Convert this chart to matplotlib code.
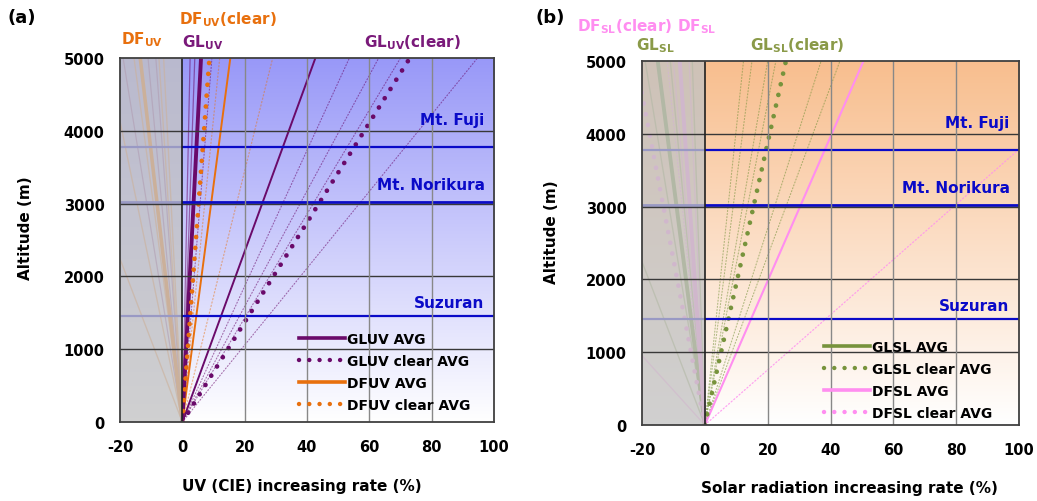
import numpy as np
import matplotlib
matplotlib.use('Agg')
import matplotlib.pyplot as plt
from matplotlib.lines import Line2D

plt.rcParams['axes.unicode_minus'] = False

# ---- data : rate (%) reached at 5000 m, every ray starts at (0 %, 0 m) ----
alt_top = 5000.

gluv_avg = 6.0
gluv_clear_avg = 73.0
dfuv_avg = -13.5
dfuv_clear_avg = 8.7
gluv_strong = [42.7]
gluv_each = [4.0, 2.5, -19.0, -11.0, -8.5]
gluv_clear_each = [9.5, 53.6, 63.0, 70.0, 94.7]
dfuv_strong = [15.4]
dfuv_each = [-7.5, -6.0, -24.2, -44.6, -15.5]
dfuv_clear_each = [29.0, 12.0]

glsl_avg = -15.0
glsl_clear_avg = 25.8
dfsl_avg = -8.0
dfsl_clear_avg = -22.0
glsl_each = [-19.0, -44.6, -11.0, -4.0]
glsl_clear_each = [12.3, 15.0, 20.0, 22.6, 37.0, 43.0]
dfsl_strong = [50.5]
dfsl_each = [-105.0, -5.0, -10.0]
dfsl_clear_each = [132.0, -12.0]

sites = ['Mt. Fuji', 'Mt. Norikura', 'Suzuran']
site_alt = [3776, 3026, 1460]
site_label_alt = [4150, 3260, 1640]

xticks = [-20, 0, 20, 40, 60, 80, 100]
yticks = [0, 1000, 2000, 3000, 4000, 5000]

PURPLE = '#6a0a6a'
ORANGE = '#e8700e'
GREEN = '#77933c'
PINK = '#ff8ef0'
BLUE = '#0a0ac8'

DOT = (0, (0.01, 2.3))
FINE = (0, (1.0, 1.8))


def rays(ax, rates, color, lw, ls='-', alpha=1.0, z=2):
	for r in rates:
		ax.plot([0, r], [0, alt_top], color=color, lw=lw, ls=ls, alpha=alpha,
				zorder=z, solid_capstyle='butt', dash_capstyle='round')


def base(ax, top_rgb):
	g = np.linspace(0, 1, 256)[:, None, None]
	top = np.array(top_rgb)[None, None, :] / 255.
	img = (1 - g) * np.ones((1, 1, 3)) + g * top
	ax.imshow(img, origin='lower', extent=(-20, 100, 0, alt_top), aspect='auto',
			  zorder=0, interpolation='bilinear')
	ax.set_xlim(-20, 100)
	ax.set_ylim(0, alt_top)
	ax.set_xticks(xticks)
	ax.set_yticks(yticks)
	ax.tick_params(length=0, labelsize=10.5)
	ax.tick_params(axis='y', pad=11)
	ax.tick_params(axis='x', pad=12)
	for lab in ax.get_xticklabels() + ax.get_yticklabels():
		lab.set_fontweight('bold')
	for s in ax.spines.values():
		s.set_color('#404040')
		s.set_linewidth(1.3)
		s.set_zorder(10)
	for i, (name, a, la) in enumerate(zip(sites, site_alt, site_label_alt)):
		ax.axhline(a, color=BLUE, lw=2.0 if i == 1 else 1.6, zorder=3)
		ax.text(97, la, name, color=BLUE, fontsize=11, fontweight='bold',
				ha='right', va='center', zorder=8)
	# grey shading for negative rates
	ax.axvspan(-20, 0, facecolor=(0.765, 0.765, 0.765), alpha=0.78, lw=0, zorder=4)
	for y in yticks[1:-1]:
		ax.axhline(y, color='#383838', lw=1.0, zorder=5)
	for x in xticks[2:-1]:
		ax.axvline(x, color='#888888', lw=1.0, zorder=5)
	ax.axvline(0, color='#202020', lw=1.2, zorder=5)


fig = plt.figure(figsize=(10.37, 5.02), dpi=100)
ax1 = fig.add_axes([0.1157, 0.1574, 0.3607, 0.7251])
ax2 = fig.add_axes([0.6191, 0.1514, 0.3636, 0.7251])

# ---------------- (a) UV ----------------
base(ax1, (152, 152, 248))
rays(ax1, gluv_each, PURPLE, 0.9, alpha=0.55)
rays(ax1, gluv_strong, PURPLE, 1.4)
rays(ax1, gluv_clear_each, PURPLE, 0.8, ls=FINE, alpha=0.55)
rays(ax1, dfuv_each, ORANGE, 1.0, alpha=0.6)
rays(ax1, dfuv_strong, ORANGE, 1.4)
rays(ax1, dfuv_clear_each, ORANGE, 0.9, ls=FINE, alpha=0.45)
rays(ax1, [dfuv_avg], ORANGE, 2.6)
rays(ax1, [gluv_avg], PURPLE, 2.8)
rays(ax1, [dfuv_clear_avg], ORANGE, 3.4, ls=DOT)
rays(ax1, [gluv_clear_avg], PURPLE, 3.4, ls=DOT)

h1 = [Line2D([], [], color=PURPLE, lw=2.6),
	  Line2D([], [], color=PURPLE, lw=3.2, ls=DOT, dash_capstyle='round'),
	  Line2D([], [], color=ORANGE, lw=2.6),
	  Line2D([], [], color=ORANGE, lw=3.2, ls=DOT, dash_capstyle='round')]
leg = ax1.legend(h1, ['GLUV AVG', 'GLUV clear AVG', 'DFUV AVG', 'DFUV clear AVG'],
				 loc='upper left', bbox_to_anchor=(0.465, 0.262), frameon=False,
				 handlelength=3.3, handletextpad=0.15, labelspacing=0.58,
				 borderaxespad=0, prop={'weight': 'bold', 'size': 10})
leg.set_zorder(12)

# ---------------- (b) solar ----------------
base(ax2, (248, 190, 142))
rays(ax2, glsl_each, GREEN, 1.0, alpha=0.6)
rays(ax2, glsl_clear_each, GREEN, 0.8, ls=FINE, alpha=0.55)
rays(ax2, dfsl_each, PINK, 1.0, alpha=0.6)
rays(ax2, dfsl_strong, PINK, 1.5)
rays(ax2, dfsl_clear_each, PINK, 0.9, ls=FINE, alpha=0.8)
rays(ax2, [glsl_avg], GREEN, 2.8)
rays(ax2, [dfsl_avg], PINK, 2.8)
rays(ax2, [dfsl_clear_avg], PINK, 3.4, ls=DOT)
rays(ax2, [glsl_clear_avg], GREEN, 3.4, ls=DOT)

h2 = [Line2D([], [], color=GREEN, lw=2.6),
	  Line2D([], [], color=GREEN, lw=3.2, ls=DOT, dash_capstyle='round'),
	  Line2D([], [], color=PINK, lw=2.6),
	  Line2D([], [], color=PINK, lw=3.2, ls=DOT, dash_capstyle='round')]
leg = ax2.legend(h2, ['GLSL AVG', 'GLSL clear AVG', 'DFSL AVG', 'DFSL clear AVG'],
				 loc='upper left', bbox_to_anchor=(0.468, 0.25), frameon=False,
				 handlelength=3.3, handletextpad=0.15, labelspacing=0.58,
				 borderaxespad=0, prop={'weight': 'bold', 'size': 10})
leg.set_zorder(12)

# ---------------- texts ----------------
W, H = 1037., 502.


def ftxt(x, y, s, **kw):
	fig.text(x / W, 1 - y / H, s, ha='center', va='center', fontweight='bold', **kw)


ftxt(22, 18, '(a)', fontsize=13)
ftxt(550, 18, '(b)', fontsize=13)
ftxt(142, 40, r'DF$_{\mathbf{UV}}$', fontsize=11, color=ORANGE)
ftxt(228, 20, r'DF$_{\mathbf{UV}}$(clear)', fontsize=11, color=ORANGE)
ftxt(203, 43, r'GL$_{\mathbf{UV}}$', fontsize=11, color='#7a1a7a')
ftxt(412, 43, r'GL$_{\mathbf{UV}}$(clear)', fontsize=11, color='#7a1a7a')
ftxt(625, 27, r'DF$_{\mathbf{SL}}$(clear)', fontsize=11, color=PINK)
ftxt(697, 27, r'DF$_{\mathbf{SL}}$', fontsize=11, color=PINK)
ftxt(655, 46, r'GL$_{\mathbf{SL}}$', fontsize=11, color='#8a9a48')
ftxt(797, 46, r'GL$_{\mathbf{SL}}$(clear)', fontsize=11, color='#8a9a48')

ftxt(302, 487, 'UV (CIE) increasing rate (%)', fontsize=11)
ftxt(849, 489, 'Solar radiation increasing rate (%)', fontsize=11)
ftxt(26, 228, 'Altitude (m)', fontsize=11, rotation=90)
ftxt(551, 232, 'Altitude (m)', fontsize=11, rotation=90)

fig.savefig('out.png', dpi=100)
